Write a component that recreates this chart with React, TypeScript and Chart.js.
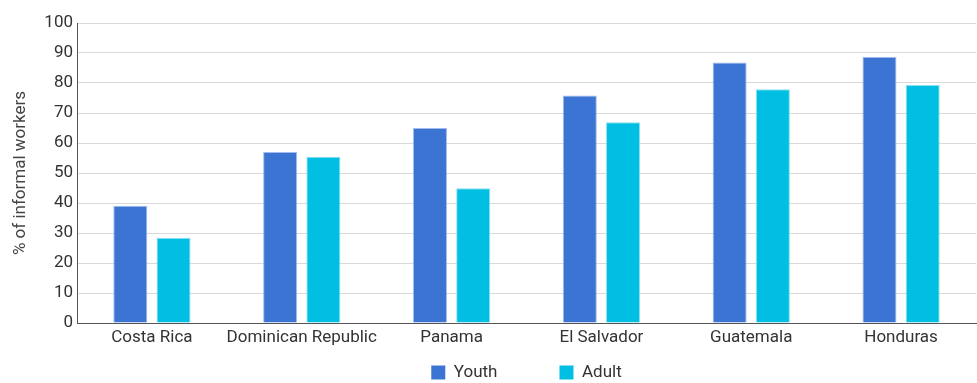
import React, { useEffect, useRef } from "react";
import { Chart, registerables } from "chart.js";

Chart.register(...registerables);

const categories = ["Costa Rica", "Dominican Republic", "Panama", "El Salvador", "Guatemala", "Honduras"];
const youthValues = [39.1, 57.0, 65.0, 75.8, 86.8, 88.7];
const adultValues = [28.4, 55.4, 44.9, 66.9, 77.9, 79.3];
const seriesNames = ["Youth", "Adult"];
const yTitle = "% of informal workers";

const FONT = "Roboto, 'Noto Sans', sans-serif";

export default function App() {
  const ref = useRef<HTMLCanvasElement | null>(null);

  useEffect(() => {
    if (!ref.current) return;
    const chart = new Chart(ref.current, {
      type: "bar",
      data: {
        labels: categories,
        datasets: [
          {
            label: seriesNames[0],
            data: youthValues,
            backgroundColor: "#3b74d2",
            borderColor: "rgba(150,180,235,0.9)",
            borderWidth: 1,
            categoryPercentage: 0.577,
            barPercentage: 0.787,
          },
          {
            label: seriesNames[1],
            data: adultValues,
            backgroundColor: "#00bfe2",
            borderColor: "rgba(130,220,240,0.9)",
            borderWidth: 1,
            categoryPercentage: 0.577,
            barPercentage: 0.787,
          },
        ],
      },
      options: {
        animation: false,
        responsive: true,
        maintainAspectRatio: false,
        layout: { padding: { top: 23, right: 1, bottom: -8, left: 0 } },
        plugins: {
          tooltip: { enabled: false },
          legend: {
            position: "bottom",
            fullSize: false,
            labels: {
              boxWidth: 14,
              boxHeight: 14,
              padding: 3,
              color: "#333",
              font: { family: FONT, size: 17 },
              generateLabels: (ch: any) => {
                const items = Chart.defaults.plugins.legend.labels.generateLabels(ch);
                return items.map((it: any, i: number) => ({
                  ...it,
                  lineWidth: 0,
                  text: i === 0 ? it.text + "              " : it.text,
                }));
              },
            },
          },
        },
        scales: {
          x: {
            grid: { display: false, drawTicks: false },
            border: { display: true, color: "#555", width: 1 },
            ticks: {
              color: "#333",
              font: { family: FONT, size: 17 },
              padding: 5,
              maxRotation: 0,
              minRotation: 0,
              autoSkip: false,
            },
            afterFit: (s: any) => {
              s.height = 38;
            },
          },
          y: {
            min: 0,
            max: 100,
            grid: { color: "#d9d9d9", drawTicks: false },
            border: { display: true, color: "#555", width: 1 },
            ticks: { stepSize: 10, color: "#333", font: { family: FONT, size: 17 }, padding: 4 },
            title: {
              display: true,
              text: yTitle,
              color: "#444",
              font: { family: FONT, size: 17 },
              padding: { top: 11, bottom: 0 },
            },
            afterFit: (s: any) => {
              s.width = 77;
            },
          },
        },
      },
    });
    return () => chart.destroy();
  }, []);

  return (
    <div style={{ position: "absolute", left: 0, top: 0, width: 977, height: 383 }}>
      <canvas ref={ref} />
    </div>
  );
}
